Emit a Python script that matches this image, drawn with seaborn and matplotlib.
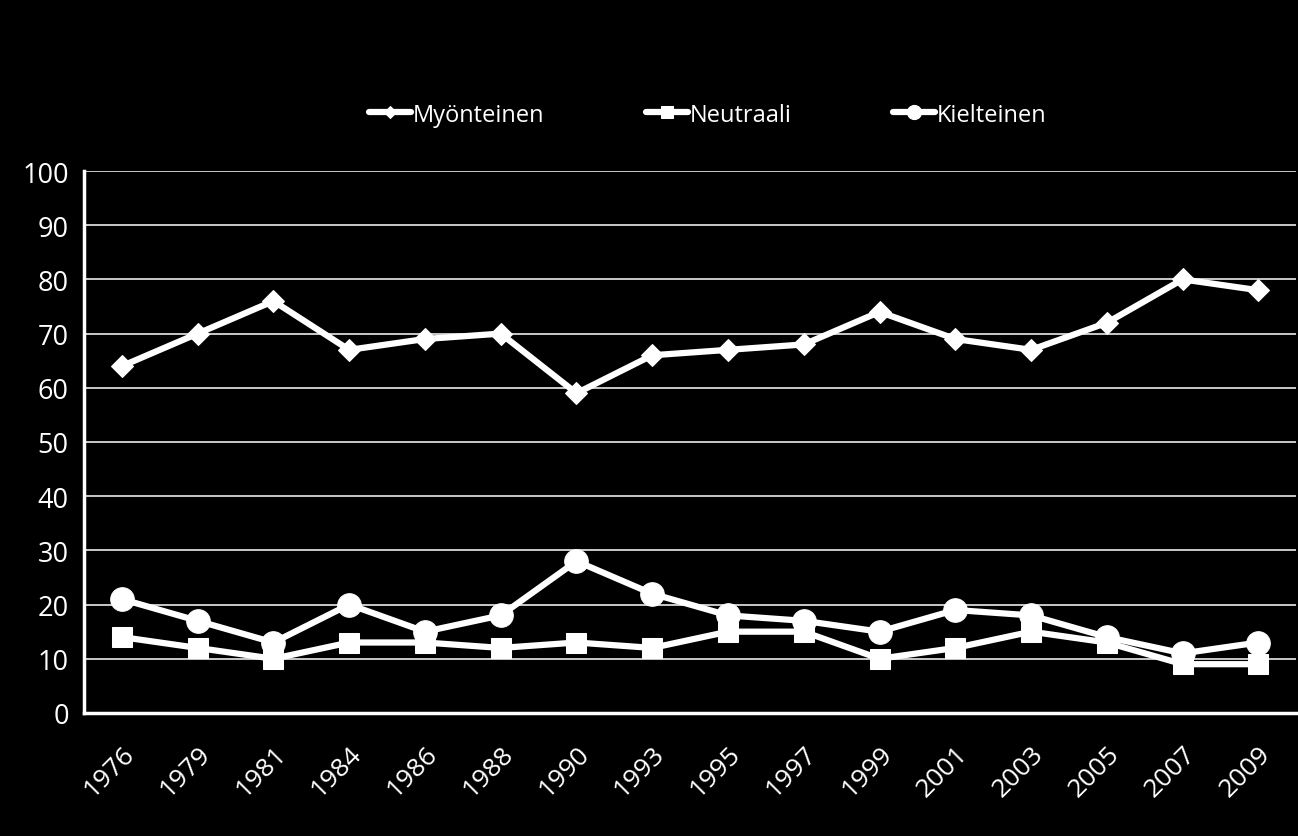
import matplotlib
matplotlib.use("Agg")
import matplotlib.pyplot as plt
import numpy as np
import pandas as pd
import seaborn as sns

YEARS = ["1976", "1979", "1981", "1984", "1986", "1988", "1990", "1993",
         "1995", "1997", "1999", "2001", "2003", "2005", "2007", "2009"]
MYONTEINEN = [64, 70, 76, 67, 69, 70, 59, 66, 67, 68, 74, 69, 67, 72, 80, 78]
NEUTRAALI = [14, 12, 10, 13, 13, 12, 13, 12, 15, 15, 10, 12, 15, 13, 9, 9]
KIELTEINEN = [21, 17, 13, 20, 15, 18, 28, 22, 18, 17, 15, 19, 18, 14, 11, 13]
SERIES = ["Myönteinen", "Neutraali", "Kielteinen"]

rows = []
for name, vals in zip(SERIES, [MYONTEINEN, NEUTRAALI, KIELTEINEN]):
    for i, v in enumerate(vals):
        rows.append({"idx": i, "year": YEARS[i], "value": v, "series": name})
df = pd.DataFrame(rows)

sns.set_style("white")
plt.rcParams["font.family"] = ["Open Sans", "DejaVu Sans"]

fig = plt.figure(figsize=(12.98, 8.37), dpi=100, facecolor="black")
ax = fig.add_axes([0.0647, 0.147, 0.934, 0.6475])
ax.set_facecolor("black")

for yv in range(10, 101, 10):
    ax.axhline(yv, color="white", lw=1.1, zorder=0)

markers = {"Myönteinen": "D", "Neutraali": "s", "Kielteinen": "o"}
sizes = {"Myönteinen": 11, "Neutraali": 15, "Kielteinen": 17}
for name in SERIES:
    sub = df[df["series"] == name]
    sns.lineplot(data=sub, x="idx", y="value", ax=ax, color="white", lw=4.5,
                 marker=markers[name], markersize=sizes[name],
                 markeredgecolor="white", label=name, legend=False, zorder=3)

ax.set_xlim(-0.5, len(YEARS) - 0.5)
ax.set_ylim(0, 100)
ax.set_xticks(np.arange(len(YEARS)))
ax.set_xticklabels(YEARS, rotation=45, ha="right", rotation_mode="anchor",
                   fontsize=19, color="white")
ax.set_xticks(np.arange(-0.5, len(YEARS), 1), minor=True)
ax.tick_params(axis="x", which="major", length=0, pad=20)
ax.tick_params(axis="x", which="minor", length=8, width=1.5, color="white",
               direction="out")
ax.set_yticks(range(0, 101, 10))
ax.tick_params(axis="y", length=8, width=1.5, color="white", labelsize=19.5,
               labelcolor="white", pad=3)
ax.set_xlabel("")
ax.set_ylabel("")

for side in ["top", "right"]:
    ax.spines[side].set_visible(False)
ax.spines["left"].set_color("white")
ax.spines["left"].set_linewidth(2.5)
ax.spines["bottom"].set_color("white")
ax.spines["bottom"].set_linewidth(2.5)

handles = [h for h in ax.get_lines() if h.get_label() in SERIES]
leg = fig.legend(handles, SERIES, loc="center", bbox_to_anchor=(0.545, 0.862),
                 ncol=3, frameon=False, handlelength=1.8,
                 handletextpad=0.05, columnspacing=4.3, markerscale=0.6,
                 prop={"family": ["Liberation Sans Narrow", "Open Sans", "DejaVu Sans"], "size": 17})
for t in leg.get_texts():
    t.set_color("white")

fig.savefig("out.png", dpi=100, facecolor="black")
